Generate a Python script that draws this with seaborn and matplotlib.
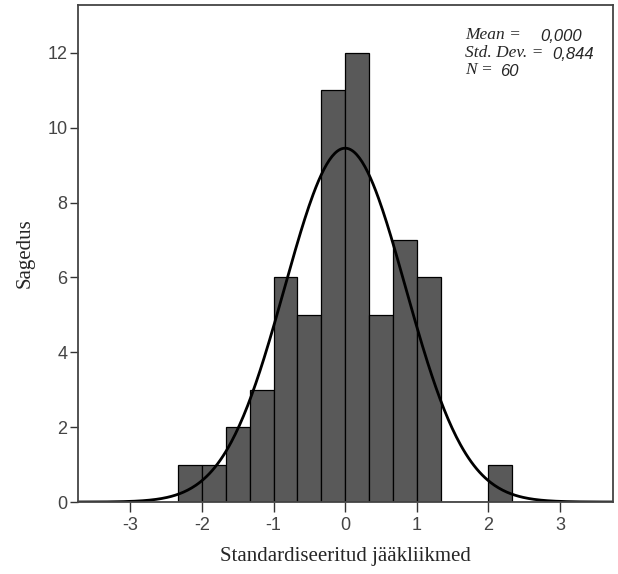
import matplotlib
matplotlib.use("Agg")
import matplotlib.pyplot as plt
import seaborn as sns
import numpy as np

# histogram
bin_edges = [-7/3, -2, -5/3, -4/3, -1, -2/3, -1/3, 0, 1/3, 2/3, 1, 4/3, 5/3, 2, 7/3]
counts = [1, 1, 2, 3, 6, 5, 11, 12, 5, 7, 6, 0, 0, 1]
mean, std_dev, n = 0.0, 0.844, 60

centers = [(a + b) / 2 for a, b in zip(bin_edges[:-1], bin_edges[1:])]
bin_width = bin_edges[1] - bin_edges[0]

sns.set_style("white")
plt.rcParams["axes.unicode_minus"] = False
fig = plt.figure(figsize=(6.18, 5.74), dpi=100)
ax = fig.add_axes([0.1262, 0.1254, 0.8657, 0.8659])

sns.histplot(x=centers, weights=counts, bins=bin_edges, ax=ax,
             color="#595959", edgecolor="black", linewidth=0.9, alpha=1)

# fitted normal curve
xs = np.linspace(-3.8, 3.8, 400)
ys = n * bin_width * np.exp(-0.5 * ((xs - mean) / std_dev) ** 2) / (std_dev * np.sqrt(2 * np.pi))
sns.lineplot(x=xs, y=ys, ax=ax, color="black", linewidth=2)

ax.set_xlim(-3.73, 3.74)
ax.set_ylim(0, 13.28)
ax.set_xticks([-3, -2, -1, 0, 1, 2, 3])
ax.set_yticks([0, 2, 4, 6, 8, 10, 12])
ax.tick_params(axis="both", direction="out", width=1, color="#333333",
               labelsize=13, labelcolor="#444444", bottom=True, left=True)
ax.tick_params(axis="x", length=7, pad=4)
ax.tick_params(axis="y", length=6, pad=1.5)
for lbl in ax.get_xticklabels() + ax.get_yticklabels():
    lbl.set_family("Liberation Sans")
for s in ax.spines.values():
    s.set_color("#444444")
    s.set_linewidth(1.3)

ax.set_xlabel("Standardiseeritud jääkliikmed", family="Liberation Serif", fontsize=15, labelpad=9)
ax.set_ylabel("Sagedus", family="Liberation Serif", fontsize=15, labelpad=9)

# stats box
lab = dict(family="Liberation Serif", style="italic", fontsize=12.5, transform=ax.transAxes, va="center")
num = dict(family="Liberation Sans", style="italic", fontsize=12, transform=ax.transAxes, va="center")
ax.text(0.723, 0.940, "Mean =", **lab)
ax.text(0.864, 0.937, "0,000", **num)
ax.text(0.723, 0.903, "Std. Dev. =", **lab)
ax.text(0.886, 0.900, "0,844", **num)
ax.text(0.723, 0.869, "N =", **lab)
ax.text(0.789, 0.866, "60", **num)

fig.savefig("out.png", dpi=100)
